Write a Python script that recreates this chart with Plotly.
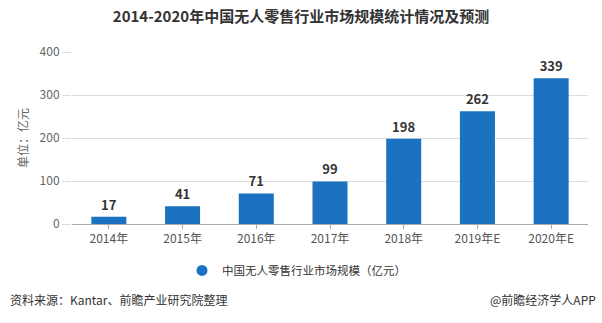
import plotly.graph_objects as go

# Market size of unmanned retail in China (100 million yuan)
years = ["2014年", "2015年", "2016年", "2017年", "2018年", "2019年E", "2020年E"]
market_size = [17, 41, 71, 99, 198, 262, 339]
y_ticks = [0, 100, 200, 300, 400]

title_text = "2014-2020年中国无人零售行业市场规模统计情况及预测"
series_name = "中国无人零售行业市场规模（亿元）"
y_title = "单位：亿元"
source_text = "资料来源：Kantar、前瞻产业研究院整理"
brand_text = "@前瞻经济学人APP"

FONT = "Noto Sans CJK SC, Noto Sans, sans-serif"
BLUE = "#1a72c0"

fig = go.Figure()

fig.add_trace(go.Bar(
    x=years,
    y=market_size,
    width=0.475,
    marker=dict(color=BLUE, line=dict(width=0)),
    text=[f"<b>{v}</b>" for v in market_size],
    textposition="outside",
    textfont=dict(family=FONT, size=13, color="#333333"),
    cliponaxis=False,
    showlegend=False,
))

# legend entry drawn with a round marker
fig.add_trace(go.Scatter(
    x=[None], y=[None],
    mode="markers",
    marker=dict(symbol="circle", size=11, color=BLUE),
    name=series_name,
    showlegend=True,
))

fig.update_layout(
    width=602,
    height=323,
    margin=dict(l=72, r=14, t=51.5, b=98.7),
    paper_bgcolor="white",
    plot_bgcolor="white",
    font=dict(family=FONT, size=12, color="#555555"),
    title=dict(
        text=f"<b>{title_text}</b>",
        x=0.5, xanchor="center",
        y=1 - 17 / 323, yanchor="middle",
        font=dict(family=FONT, size=15, color="#333333"),
    ),
    bargap=0.5,
    legend=dict(
        orientation="h",
        x=(182 - 72) / 516, xanchor="left",
        y=-0.27, yanchor="middle",
        font=dict(family=FONT, size=11.5, color="#333333"),
        itemwidth=30,
        bgcolor="rgba(0,0,0,0)",
    ),
    xaxis=dict(
        type="category",
        range=[-0.5, 6.5],
        showline=True,
        linecolor="#aaaaaa",
        linewidth=1,
        ticks="outside",
        ticklen=4,
        tickcolor="#aaaaaa",
        showgrid=False,
        tickfont=dict(family=FONT, size=12, color="#555555"),
        fixedrange=True,
    ),
    yaxis=dict(
        range=[0, 400],
        tickvals=y_ticks,
        showgrid=True,
        gridcolor="#dddddd",
        gridwidth=1,
        zeroline=False,
        showline=False,
        ticks="outside",
        ticklen=9,
        tickcolor="#dddddd",
        tickfont=dict(family=FONT, size=12, color="#666666"),
        fixedrange=True,
    ),
    annotations=[
        dict(
            text=y_title,
            xref="paper", yref="paper",
            x=(22 - 72) / 516, y=0.5,
            xanchor="center", yanchor="middle",
            textangle=-90,
            showarrow=False,
            font=dict(family=FONT, size=12, color="#666666"),
        ),
        dict(
            text=source_text,
            xref="paper", yref="paper",
            x=(8 - 72) / 516, y=(224.3 - 300) / 172.8,
            xanchor="left", yanchor="middle",
            showarrow=False,
            font=dict(family=FONT, size=12, color="#333333"),
        ),
        dict(
            text=brand_text,
            xref="paper", yref="paper",
            x=(598 - 72) / 516, y=(224.3 - 300) / 172.8,
            xanchor="right", yanchor="middle",
            showarrow=False,
            font=dict(family=FONT, size=12, color="#333333"),
        ),
    ],
)

fig.write_html("out.html")
